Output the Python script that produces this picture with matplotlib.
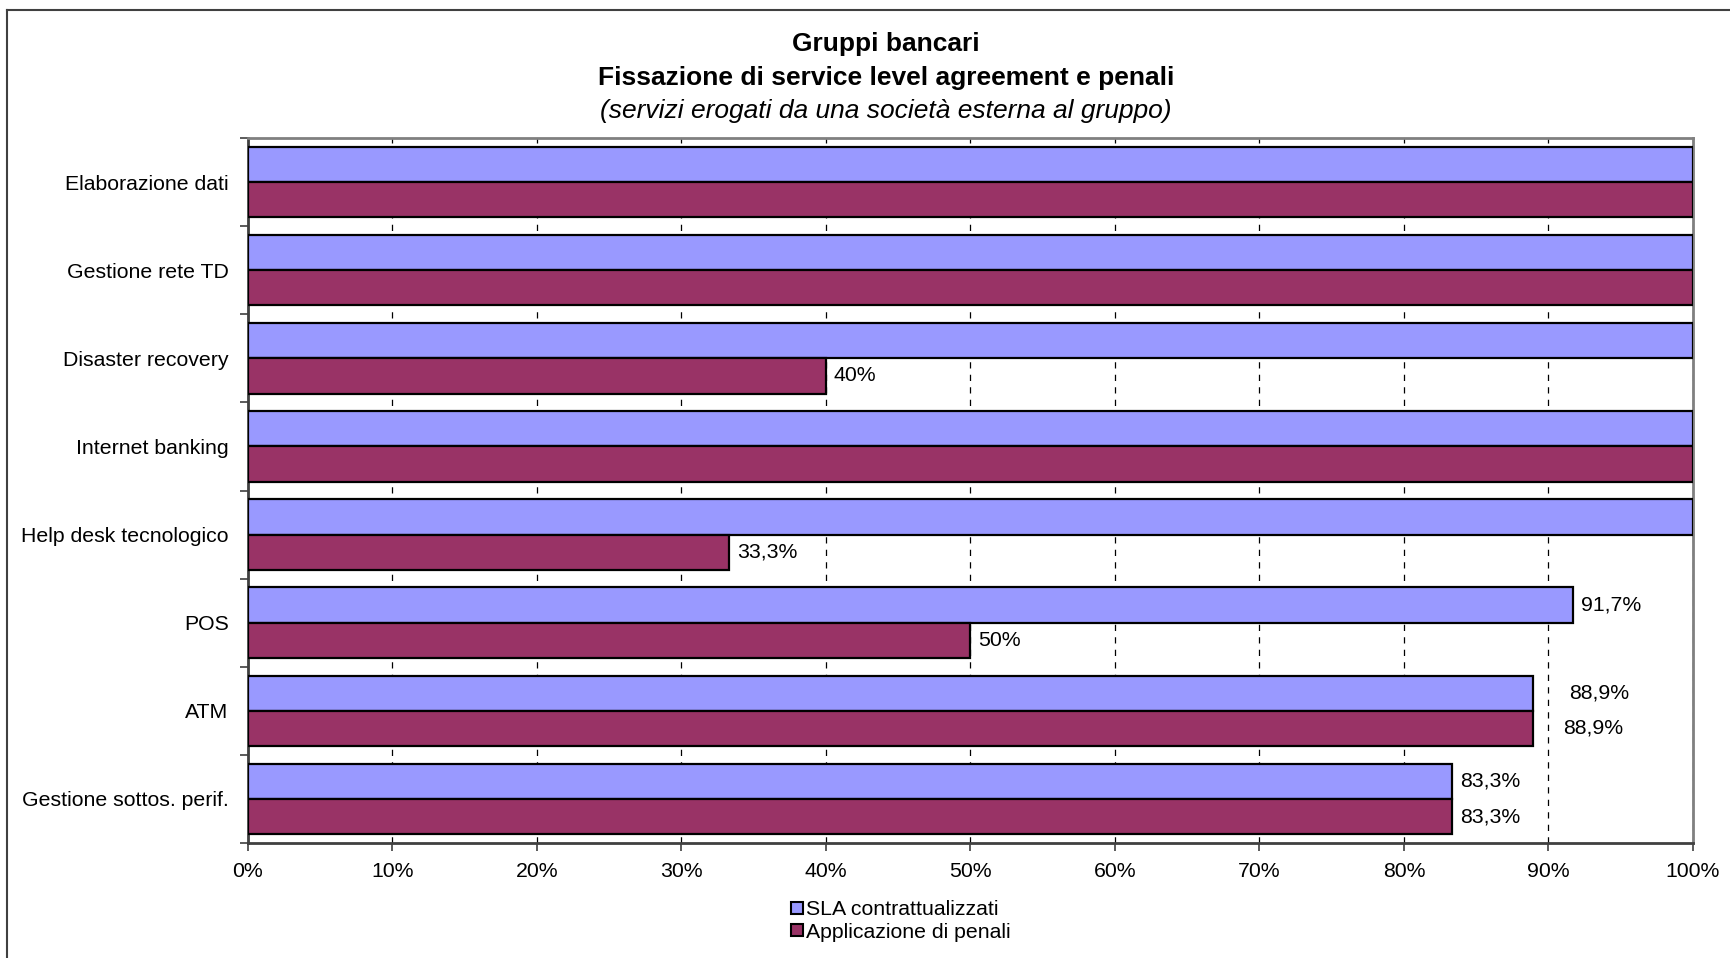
import matplotlib
matplotlib.use("Agg")
import matplotlib.pyplot as plt
from matplotlib.lines import Line2D
from matplotlib.ticker import FixedLocator

plt.rcParams['font.family'] = ['Liberation Sans', 'DejaVu Sans']

categories = ["Elaborazione dati", "Gestione rete TD", "Disaster recovery",
              "Internet banking", "Help desk tecnologico", "POS", "ATM",
              "Gestione sottos. perif."]
sla = [100, 100, 100, 100, 100, 91.7, 88.9, 83.3]
penali = [100, 100, 40, 100, 33.3, 50, 88.9, 83.3]
series_names = ["SLA contrattualizzati", "Applicazione di penali"]
x_ticks = [0, 10, 20, 30, 40, 50, 60, 70, 80, 90, 100]

blue = "#9999FF"
purple = "#993366"
fs = 15.3

fig = plt.figure(figsize=(17.31, 9.58), dpi=100)
ax = fig.add_axes([248 / 1731, 1 - 843 / 958, (1693 - 248) / 1731, (843 - 138) / 958])

pos = list(range(len(categories)))
h = 0.4
ax.barh([p - h / 2 for p in pos], sla, height=h, color=blue,
        edgecolor="black", linewidth=1.6, label=series_names[0], zorder=3)
ax.barh([p + h / 2 for p in pos], penali, height=h, color=purple,
        edgecolor="black", linewidth=1.6, label=series_names[1], zorder=3)

ax.set_xlim(0, 100)
ax.set_ylim(len(categories) - 0.5, -0.5)


def fmt(v):
    s = ("%.1f" % v).rstrip("0").rstrip(".")
    return s.replace(".", ",") + "%"


# data labels (ATM ones sit further to the right in the original)
extra = {6: (29, 23)}
for i in pos:
    for k, (vals, yoff) in enumerate([(sla, -h / 2), (penali, h / 2)]):
        v = vals[i]
        if v >= 100:
            continue
        dx = 8 + (extra[i][k] if i in extra else 0)
        ax.annotate(fmt(v), xy=(v, i + yoff), xytext=(dx, 0),
                    textcoords="offset pixels", ha="left", va="center",
                    fontsize=fs, zorder=4)

# axes styling
ax.xaxis.set_major_locator(FixedLocator(x_ticks))
ax.set_xticklabels([f"{t}%" for t in x_ticks], fontsize=fs)
ax.tick_params(axis="x", direction="out", length=6, width=1.2, pad=8, color="#404040")

ax.yaxis.set_major_locator(FixedLocator([p - 0.5 for p in pos] + [len(pos) - 0.5]))
ax.yaxis.set_major_formatter(plt.NullFormatter())
ax.set_yticks(pos, minor=True)
ax.set_yticklabels(categories, minor=True, fontsize=fs)
ax.tick_params(axis="y", which="major", direction="out", length=6, width=1.2, color="#404040")
ax.tick_params(axis="y", which="minor", length=0, pad=14)

ax.grid(axis="x", color="black", linestyle=(0, (5, 5)), linewidth=0.9, zorder=1)

for side in ["top", "right"]:
    ax.spines[side].set_color("#808080")
    ax.spines[side].set_linewidth(2)
for side in ["left", "bottom"]:
    ax.spines[side].set_color("#404040")
    ax.spines[side].set_linewidth(2)

# titles
fig.text(886 / 1731, 1 - 44 / 958, "Gruppi bancari", ha="center", va="center",
         fontsize=19, fontweight="bold")
fig.text(886 / 1731, 1 - 78 / 958, "Fissazione di service level agreement e penali",
         ha="center", va="center", fontsize=19, fontweight="bold")
fig.text(886 / 1731, 1 - 111 / 958, "(servizi erogati da una società esterna al gruppo)",
         ha="center", va="center", fontsize=19, fontstyle="italic")

# legend
handles = [Line2D([], [], marker="s", linestyle="none", markersize=9,
                  markerfacecolor=c, markeredgecolor="black", markeredgewidth=1.5)
           for c in (blue, purple)]
fig.legend(handles, series_names, loc="center", bbox_to_anchor=(900 / 1731, 1 - 921 / 958),
           frameon=False, fontsize=fs, handletextpad=0.1, labelspacing=0.15,
           handlelength=0.7, borderaxespad=0)

# chart area border (only left and top visible)
fig.add_artist(Line2D([7.5 / 1731, 7.5 / 1731], [0, 1 - 10 / 958], transform=fig.transFigure,
                      color="#404040", linewidth=1.5))
fig.add_artist(Line2D([7.5 / 1731, 1], [1 - 10 / 958, 1 - 10 / 958], transform=fig.transFigure,
                      color="#404040", linewidth=1.5))

fig.savefig("out.png", dpi=100)
